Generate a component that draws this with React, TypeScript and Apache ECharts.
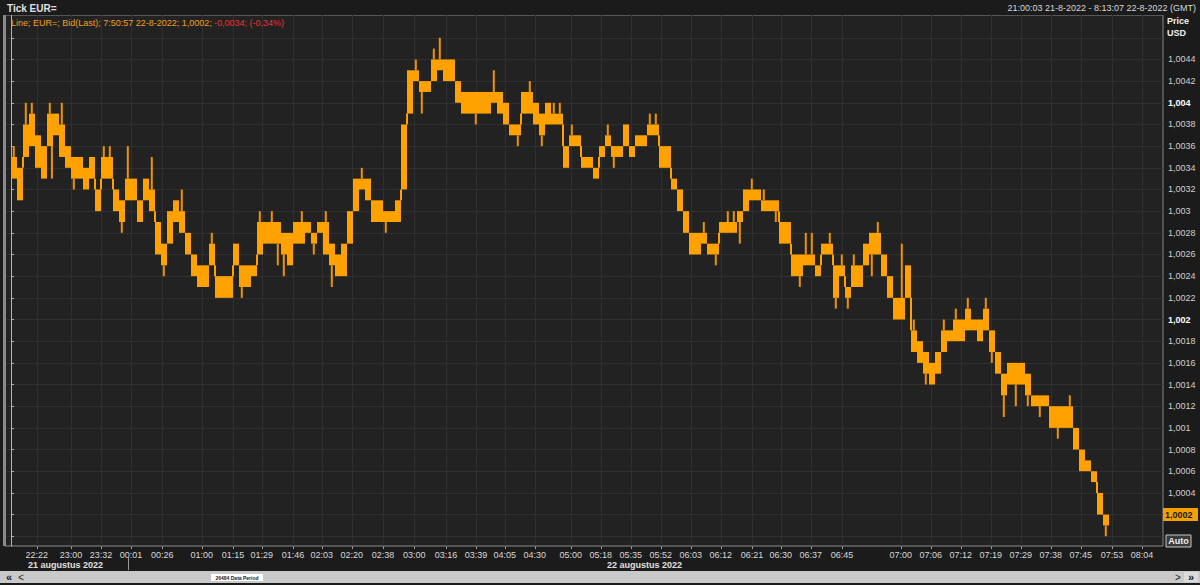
import React, { useEffect, useRef } from 'react';
import * as echarts from 'echarts';

// EUR= bid ticks, grouped into columns: lowest and highest price in each column
const lows = [
  1.0033, 1.0031, 1.0035, 1.0036, 1.0034, 1.0033, 1.0036, 1.0037, 1.0035, 1.0034,
  1.0033, 1.0033, 1.0032, 1.0033, 1.0030, 1.0033, 1.0033, 1.0030, 1.0029, 1.0031,
  1.0031, 1.0029, 1.0031, 1.0030, 1.0026, 1.0025, 1.0027, 1.0029, 1.0028, 1.0026,
  1.0024, 1.0023, 1.0023, 1.0025, 1.0022, 1.0022, 1.0022, 1.0025, 1.0023, 1.0023,
  1.0024, 1.0026, 1.0027, 1.0027, 1.0027, 1.0026, 1.0025, 1.0027, 1.0027, 1.0028,
  1.0027, 1.0028, 1.0026, 1.0025, 1.0024, 1.0024, 1.0027, 1.0030, 1.0032, 1.0031,
  1.0029, 1.0029, 1.0029, 1.0029, 1.0029, 1.0032, 1.0039, 1.0042, 1.0041, 1.0041,
  1.0042, 1.0043, 1.0042, 1.0042, 1.0040, 1.0039, 1.0039, 1.0039, 1.0039, 1.0039,
  1.0040, 1.0039, 1.0038, 1.0037, 1.0037, 1.0039, 1.0039, 1.0038, 1.0037, 1.0038,
  1.0038, 1.0038, 1.0034, 1.0036, 1.0036, 1.0034, 1.0034, 1.0033, 1.0035, 1.0036,
  1.0035, 1.0035, 1.0036, 1.0035, 1.0036, 1.0036, 1.0037, 1.0037, 1.0034, 1.0034,
  1.0032, 1.0030, 1.0028, 1.0026, 1.0026, 1.0027, 1.0026, 1.0026, 1.0028, 1.0028,
  1.0028, 1.0029, 1.0030, 1.0031, 1.0031, 1.0030, 1.0030, 1.0030, 1.0027, 1.0027,
  1.0024, 1.0024, 1.0025, 1.0025, 1.0024, 1.0026, 1.0026, 1.0022, 1.0024, 1.0022,
  1.0023, 1.0023, 1.0025, 1.0026, 1.0026, 1.0024, 1.0022, 1.0020, 1.0020, 1.0022,
  1.0017, 1.0016, 1.0015, 1.0014, 1.0015, 1.0017, 1.0018, 1.0018, 1.0018, 1.0019,
  1.0019, 1.0018, 1.0019, 1.0017, 1.0015, 1.0013, 1.0014, 1.0014, 1.0014, 1.0013,
  1.0012, 1.0012, 1.0012, 1.0010, 1.0010, 1.0010, 1.0010, 1.0008, 1.0006, 1.0006,
  1.0005, 1.0002, 1.0001,
];
const highs = [
  1.0035, 1.0034, 1.0038, 1.0039, 1.0037, 1.0036, 1.0039, 1.0039, 1.0038, 1.0036,
  1.0035, 1.0035, 1.0034, 1.0035, 1.0032, 1.0035, 1.0035, 1.0032, 1.0031, 1.0033,
  1.0033, 1.0031, 1.0033, 1.0032, 1.0029, 1.0027, 1.0030, 1.0031, 1.0030, 1.0028,
  1.0026, 1.0025, 1.0025, 1.0027, 1.0024, 1.0024, 1.0024, 1.0027, 1.0025, 1.0025,
  1.0025, 1.0029, 1.0029, 1.0029, 1.0029, 1.0028, 1.0028, 1.0029, 1.0029, 1.0029,
  1.0028, 1.0029, 1.0029, 1.0027, 1.0026, 1.0027, 1.0030, 1.0033, 1.0033, 1.0033,
  1.0031, 1.0031, 1.0030, 1.0030, 1.0031, 1.0038, 1.0043, 1.0043, 1.0042, 1.0042,
  1.0044, 1.0044, 1.0044, 1.0044, 1.0042, 1.0041, 1.0041, 1.0041, 1.0041, 1.0041,
  1.0041, 1.0041, 1.0040, 1.0038, 1.0038, 1.0041, 1.0041, 1.0040, 1.0039, 1.0040,
  1.0039, 1.0039, 1.0036, 1.0037, 1.0037, 1.0035, 1.0035, 1.0034, 1.0036, 1.0037,
  1.0036, 1.0036, 1.0038, 1.0036, 1.0037, 1.0037, 1.0038, 1.0038, 1.0036, 1.0036,
  1.0033, 1.0032, 1.0030, 1.0028, 1.0028, 1.0028, 1.0027, 1.0027, 1.0029, 1.0029,
  1.0029, 1.0030, 1.0032, 1.0032, 1.0032, 1.0031, 1.0031, 1.0031, 1.0029, 1.0029,
  1.0026, 1.0026, 1.0026, 1.0026, 1.0025, 1.0027, 1.0027, 1.0025, 1.0025, 1.0023,
  1.0025, 1.0025, 1.0027, 1.0028, 1.0028, 1.0026, 1.0024, 1.0022, 1.0022, 1.0025,
  1.0019, 1.0018, 1.0017, 1.0016, 1.0017, 1.0019, 1.0019, 1.0020, 1.0020, 1.0021,
  1.0020, 1.0020, 1.0021, 1.0019, 1.0017, 1.0015, 1.0016, 1.0016, 1.0016, 1.0015,
  1.0013, 1.0013, 1.0013, 1.0012, 1.0012, 1.0012, 1.0012, 1.0010, 1.0008, 1.0007,
  1.0006, 1.0004, 1.0002,
];

// isolated ticks that poke out of a column's range (column, price)
const spikeCols = [
  0, 2, 3, 6, 6, 8, 10, 15, 16, 18, 19, 23, 25, 28, 33, 38, 41, 43, 44, 45,
  48, 50, 52, 53, 58, 62, 67, 68, 70, 71, 77, 80, 84, 86, 88, 90, 91, 93, 99, 100,
  106, 107, 115, 117, 119, 120, 121, 123, 125, 127, 131, 132, 133, 136, 137, 138, 139, 140, 143, 144,
  148, 150, 152, 155, 157, 159, 162, 163, 165, 167, 169, 171, 174, 176, 182,
];
const spikePrices = [
  1.0036, 1.0040, 1.0040, 1.0040, 1.0033, 1.0040, 1.0032, 1.0036, 1.0036, 1.0028,
  1.0036, 1.0035, 1.0024, 1.0032, 1.0028, 1.0022, 1.0030, 1.0030, 1.0025, 1.0024,
  1.0030, 1.0026, 1.0030, 1.0023, 1.0034, 1.0028, 1.0044, 1.0039, 1.0045, 1.0046,
  1.0038, 1.0043, 1.0036, 1.0042, 1.0036, 1.0040, 1.0040, 1.0038, 1.0038, 1.0034,
  1.0039, 1.0039, 1.0029, 1.0025, 1.0030, 1.0030, 1.0027, 1.0033, 1.0032, 1.0029,
  1.0023, 1.0028, 1.0028, 1.0028, 1.0021, 1.0026, 1.0021, 1.0026, 1.0024, 1.0029,
  1.0027, 1.0020, 1.0014, 1.0020, 1.0021, 1.0022, 1.0022, 1.0016, 1.0011, 1.0012,
  1.0012, 1.0011, 1.0009, 1.0013, 1.0000,
];

// time labels and the data column at which they occur
const xTickTimes = [
  '22:22', '23:00', '23:32', '00:01', '00:26', '01:00', '01:15', '01:29', '01:46', '02:03',
  '02:20', '02:38', '03:00', '03:16', '03:39', '04:05', '04:30', '05:00', '05:18', '05:35',
  '05:52', '06:03', '06:12', '06:21', '06:30', '06:37', '06:45', '07:00', '07:06', '07:12',
  '07:19', '07:29', '07:38', '07:45', '07:53', '08:04',
];
const xTickCols = [
  4.3, 10, 15, 20, 25.2, 31.8, 37, 41.8, 47, 51.8,
  56.8, 62, 67.2, 72.5, 77.5, 82.3, 87.3, 93.3, 98.3, 103.3,
  108.3, 113.3, 118.3, 123.5, 128.3, 133.3, 138.5, 148.3, 153.3, 158.3,
  163.3, 168.3, 173.3, 178.3, 183.5, 188.5,
];

const yGridValues = [
  1.0000, 1.0002, 1.0004, 1.0006, 1.0008, 1.0010, 1.0012, 1.0014, 1.0016, 1.0018,
  1.0020, 1.0022, 1.0024, 1.0026, 1.0028, 1.0030, 1.0032, 1.0034, 1.0036, 1.0038,
  1.0040, 1.0042, 1.0044, 1.0046,
];
const yLabelValues = [
  1.0004, 1.0006, 1.0008, 1.0010, 1.0012, 1.0014, 1.0016, 1.0018,
  1.0020, 1.0022, 1.0024, 1.0026, 1.0028, 1.0030, 1.0032, 1.0034, 1.0036, 1.0038,
  1.0040, 1.0042, 1.0044,
];
const boldLevels = [1.002, 1.004];

const yMin = 0.99991;
const yMax = 1.00481;

const title = 'Tick EUR=';
const period = '21:00:03 21-8-2022 - 8:13:07 22-8-2022 (GMT)';
const legendMain = 'Line; EUR=; Bid(Last); 7:50:57 22-8-2022; 1,0002;';
const legendChange = '-0,0034; (-0,34%)';
const lastPriceLabel = '1,0002';
const dayLabels = ['21 augustus 2022', '22 augustus 2022'];
const dataPeriodLabel = '26484 Data Period';

const FONT = 'Liberation Sans, Arial, sans-serif';
const ORANGE = '#ffa200';
const SPIKE = '#eb9400';

function fmtPrice(v: number): string {
  let s = v.toFixed(4);
  s = s.replace(/0+$/, '').replace(/\.$/, '');
  return s.replace('.', ',');
}

export default function App() {
  const ref = useRef<HTMLDivElement>(null);

  useEffect(() => {
    if (!ref.current) return;
    const chart = echarts.init(ref.current, undefined, { renderer: 'svg' });

    const data = highs.map((h, i) => [i, lows[i], h]);
    const spikesByCol: Record<number, number[]> = {};
    spikeCols.forEach((c, j) => {
      (spikesByCol[c] = spikesByCol[c] || []).push(spikePrices[j]);
    });

    const option: any = {
      animation: false,
      backgroundColor: '#1b1b1b',
      grid: {
        left: 5,
        right: 37,
        top: 15,
        bottom: 39,
        show: true,
        backgroundColor: '#222222',
        borderColor: '#8a8a8a',
        borderWidth: 1,
      },
      xAxis: {
        type: 'value',
        min: -1,
        max: 192,
        axisLine: { show: false },
        axisTick: {
          show: true,
          customValues: xTickCols,
          length: 3,
          lineStyle: { color: '#9a9a9a' },
        },
        axisLabel: {
          customValues: xTickCols,
          color: '#d8d8d8',
          fontSize: 9,
          fontFamily: FONT,
          margin: 4,
          formatter: (v: number) => {
            const j = xTickCols.findIndex((c) => Math.abs(c - v) < 1e-6);
            return j >= 0 ? xTickTimes[j] : '';
          },
        },
        splitLine: { show: true, lineStyle: { color: '#2f2f2f', width: 1 } },
      },
      yAxis: {
        type: 'value',
        position: 'right',
        min: yMin,
        max: yMax,
        axisLine: { show: true, lineStyle: { color: '#b4b4b4', width: 1 } },
        axisTick: {
          show: true,
          customValues: yGridValues,
          length: 3,
          lineStyle: { color: '#b4b4b4' },
        },
        axisLabel: {
          customValues: yLabelValues,
          color: '#d0d0d0',
          fontSize: 9,
          fontFamily: FONT,
          margin: 5,
          formatter: (v: number) => {
            const isBold = boldLevels.some((b) => Math.abs(b - v) < 1e-7);
            return isBold ? '{b|' + fmtPrice(v) + '}' : fmtPrice(v);
          },
          rich: {
            b: { fontWeight: 'bold', color: '#ffffff', fontSize: 9, fontFamily: FONT },
          },
        },
        splitLine: { show: true, lineStyle: { color: '#2f2f2f', width: 1 } },
      },
      series: [
        {
          type: 'custom',
          clip: true,
          encode: { x: 0, y: [1, 2] },
          data,
          renderItem: (params: any, api: any) => {
            const i = api.value(0);
            const lo = api.value(1);
            const hi = api.value(2);
            const p1 = api.coord([i, hi]);
            const p2 = api.coord([i + 1, lo]);
            const w = p2[0] - p1[0];
            const children: any[] = [
              {
                type: 'rect',
                shape: { x: p1[0], y: p1[1], width: w, height: Math.max(1, p2[1] - p1[1]) },
                style: { fill: ORANGE },
              },
            ];
            if (i > 0) {
              const pLo = lows[i - 1];
              const pHi = highs[i - 1];
              let a = NaN;
              let b = NaN;
              if (pLo > hi) { a = hi; b = pLo; }
              else if (pHi < lo) { a = pHi; b = lo; }
              if (!isNaN(a)) {
                const ya = api.coord([i, a])[1];
                const yb = api.coord([i, b])[1];
                children.push({
                  type: 'rect',
                  shape: { x: p1[0] - 1, y: Math.min(ya, yb), width: 2, height: Math.abs(ya - yb) },
                  style: { fill: ORANGE },
                });
              }
            }
            const sp = spikesByCol[i] || [];
            sp.forEach((s, k) => {
              const from = s > hi ? hi : lo;
              const ys = api.coord([i, s])[1];
              const yf = api.coord([i, from])[1];
              const xs = p1[0] + w * (0.3 + 0.35 * k);
              children.push({
                type: 'rect',
                shape: { x: xs, y: Math.min(ys, yf), width: 2, height: Math.abs(ys - yf) },
                style: { fill: SPIKE },
              });
            });
            return { type: 'group', children };
          },
        },
      ],
      graphic: [
        // header
        { type: 'rect', shape: { x: 0, y: 0, width: 1200, height: 15 }, style: { fill: '#1b1b1b' }, z: 10 },
        {
          type: 'text', x: 7, y: 8, z: 11,
          style: { text: title, fill: '#e0e0e0', font: 'bold 10px ' + FONT, textVerticalAlign: 'middle' },
        },
        {
          type: 'text', x: 1196, y: 8, z: 11,
          style: { text: period, fill: '#d8d8d8', font: '9px ' + FONT, textAlign: 'right', textVerticalAlign: 'middle' },
        },
        // legend line
        {
          type: 'text', x: 11, y: 23, z: 11,
          style: { text: legendMain, fill: '#f0a020', font: '9px ' + FONT, textVerticalAlign: 'middle' },
        },
        {
          type: 'text', x: 214, y: 23, z: 11,
          style: { text: legendChange, fill: '#ee3030', font: '9px ' + FONT, textVerticalAlign: 'middle' },
        },
        // left frame edge
        { type: 'rect', z: 11, shape: { x: 3, y: 15, width: 3, height: 531 }, style: { fill: '#8a8a8a' } },
        // axis unit
        {
          type: 'text', x: 1167, y: 21, z: 11,
          style: { text: 'Price', fill: '#f0f0f0', font: 'bold 9px ' + FONT, textVerticalAlign: 'middle' },
        },
        {
          type: 'text', x: 1167, y: 33, z: 11,
          style: { text: 'USD', fill: '#f0f0f0', font: 'bold 9px ' + FONT, textVerticalAlign: 'middle' },
        },
        // last price tag
        {
          type: 'rect', z: 11,
          shape: { x: 1163, y: 508, width: 35, height: 13 },
          style: { fill: '#f5a000' },
        },
        {
          type: 'text', x: 1165, y: 515, z: 12,
          style: { text: lastPriceLabel, fill: '#1a1a1a', font: 'bold 9px ' + FONT, textVerticalAlign: 'middle' },
        },
        // Auto button
        {
          type: 'rect', z: 11,
          shape: { x: 1166, y: 535, width: 25, height: 12 },
          style: { fill: '#3a3a3a', stroke: '#c8c8c8', lineWidth: 1 },
        },
        {
          type: 'text', x: 1178.5, y: 541, z: 12,
          style: { text: 'Auto', fill: '#f0f0f0', font: 'bold 9px ' + FONT, textAlign: 'center', textVerticalAlign: 'middle' },
        },
        // day labels
        {
          type: 'text', x: 28, y: 565, z: 11,
          style: { text: dayLabels[0], fill: '#e0e0e0', font: 'bold 9px ' + FONT, textVerticalAlign: 'middle' },
        },
        {
          type: 'line', z: 11,
          shape: { x1: 128.5, y1: 557, x2: 128.5, y2: 570 },
          style: { stroke: '#9a9a9a', lineWidth: 1 },
        },
        {
          type: 'text', x: 607, y: 565, z: 11,
          style: { text: dayLabels[1], fill: '#e0e0e0', font: 'bold 9px ' + FONT, textVerticalAlign: 'middle' },
        },
        // scroll bar
        { type: 'rect', z: 11, shape: { x: 0, y: 571, width: 1200, height: 12 }, style: { fill: '#c9c9c9' } },
        { type: 'rect', z: 11, shape: { x: 0, y: 583, width: 1200, height: 2 }, style: { fill: '#1b1b1b' } },
        {
          type: 'text', x: 9, y: 577, z: 12,
          style: { text: '«', fill: '#222', font: 'bold 11px ' + FONT, textAlign: 'center', textVerticalAlign: 'middle' },
        },
        {
          type: 'text', x: 21, y: 577, z: 12,
          style: { text: '<', fill: '#222', font: '10px ' + FONT, textAlign: 'center', textVerticalAlign: 'middle' },
        },
        {
          type: 'text', x: 1178, y: 577, z: 12,
          style: { text: '>', fill: '#222', font: '10px ' + FONT, textAlign: 'center', textVerticalAlign: 'middle' },
        },
        { type: 'rect', z: 11, shape: { x: 1184, y: 572, width: 14, height: 10 }, style: { fill: '#dcdcdc' } },
        {
          type: 'text', x: 1191, y: 577, z: 12,
          style: { text: '»', fill: '#222', font: 'bold 11px ' + FONT, textAlign: 'center', textVerticalAlign: 'middle' },
        },
        { type: 'rect', z: 11, shape: { x: 211, y: 574, width: 52, height: 7 }, style: { fill: '#ffffff' } },
        {
          type: 'text', x: 237, y: 577.5, z: 12,
          style: { text: dataPeriodLabel, fill: '#222', font: 'bold 5px ' + FONT, textAlign: 'center', textVerticalAlign: 'middle' },
        },
      ],
    };

    chart.setOption(option);
    return () => chart.dispose();
  }, []);

  return (
    <div
      ref={ref}
      style={{ position: 'fixed', left: 0, top: 0, width: 1200, height: 585, background: '#1b1b1b' }}
    />
  );
}
